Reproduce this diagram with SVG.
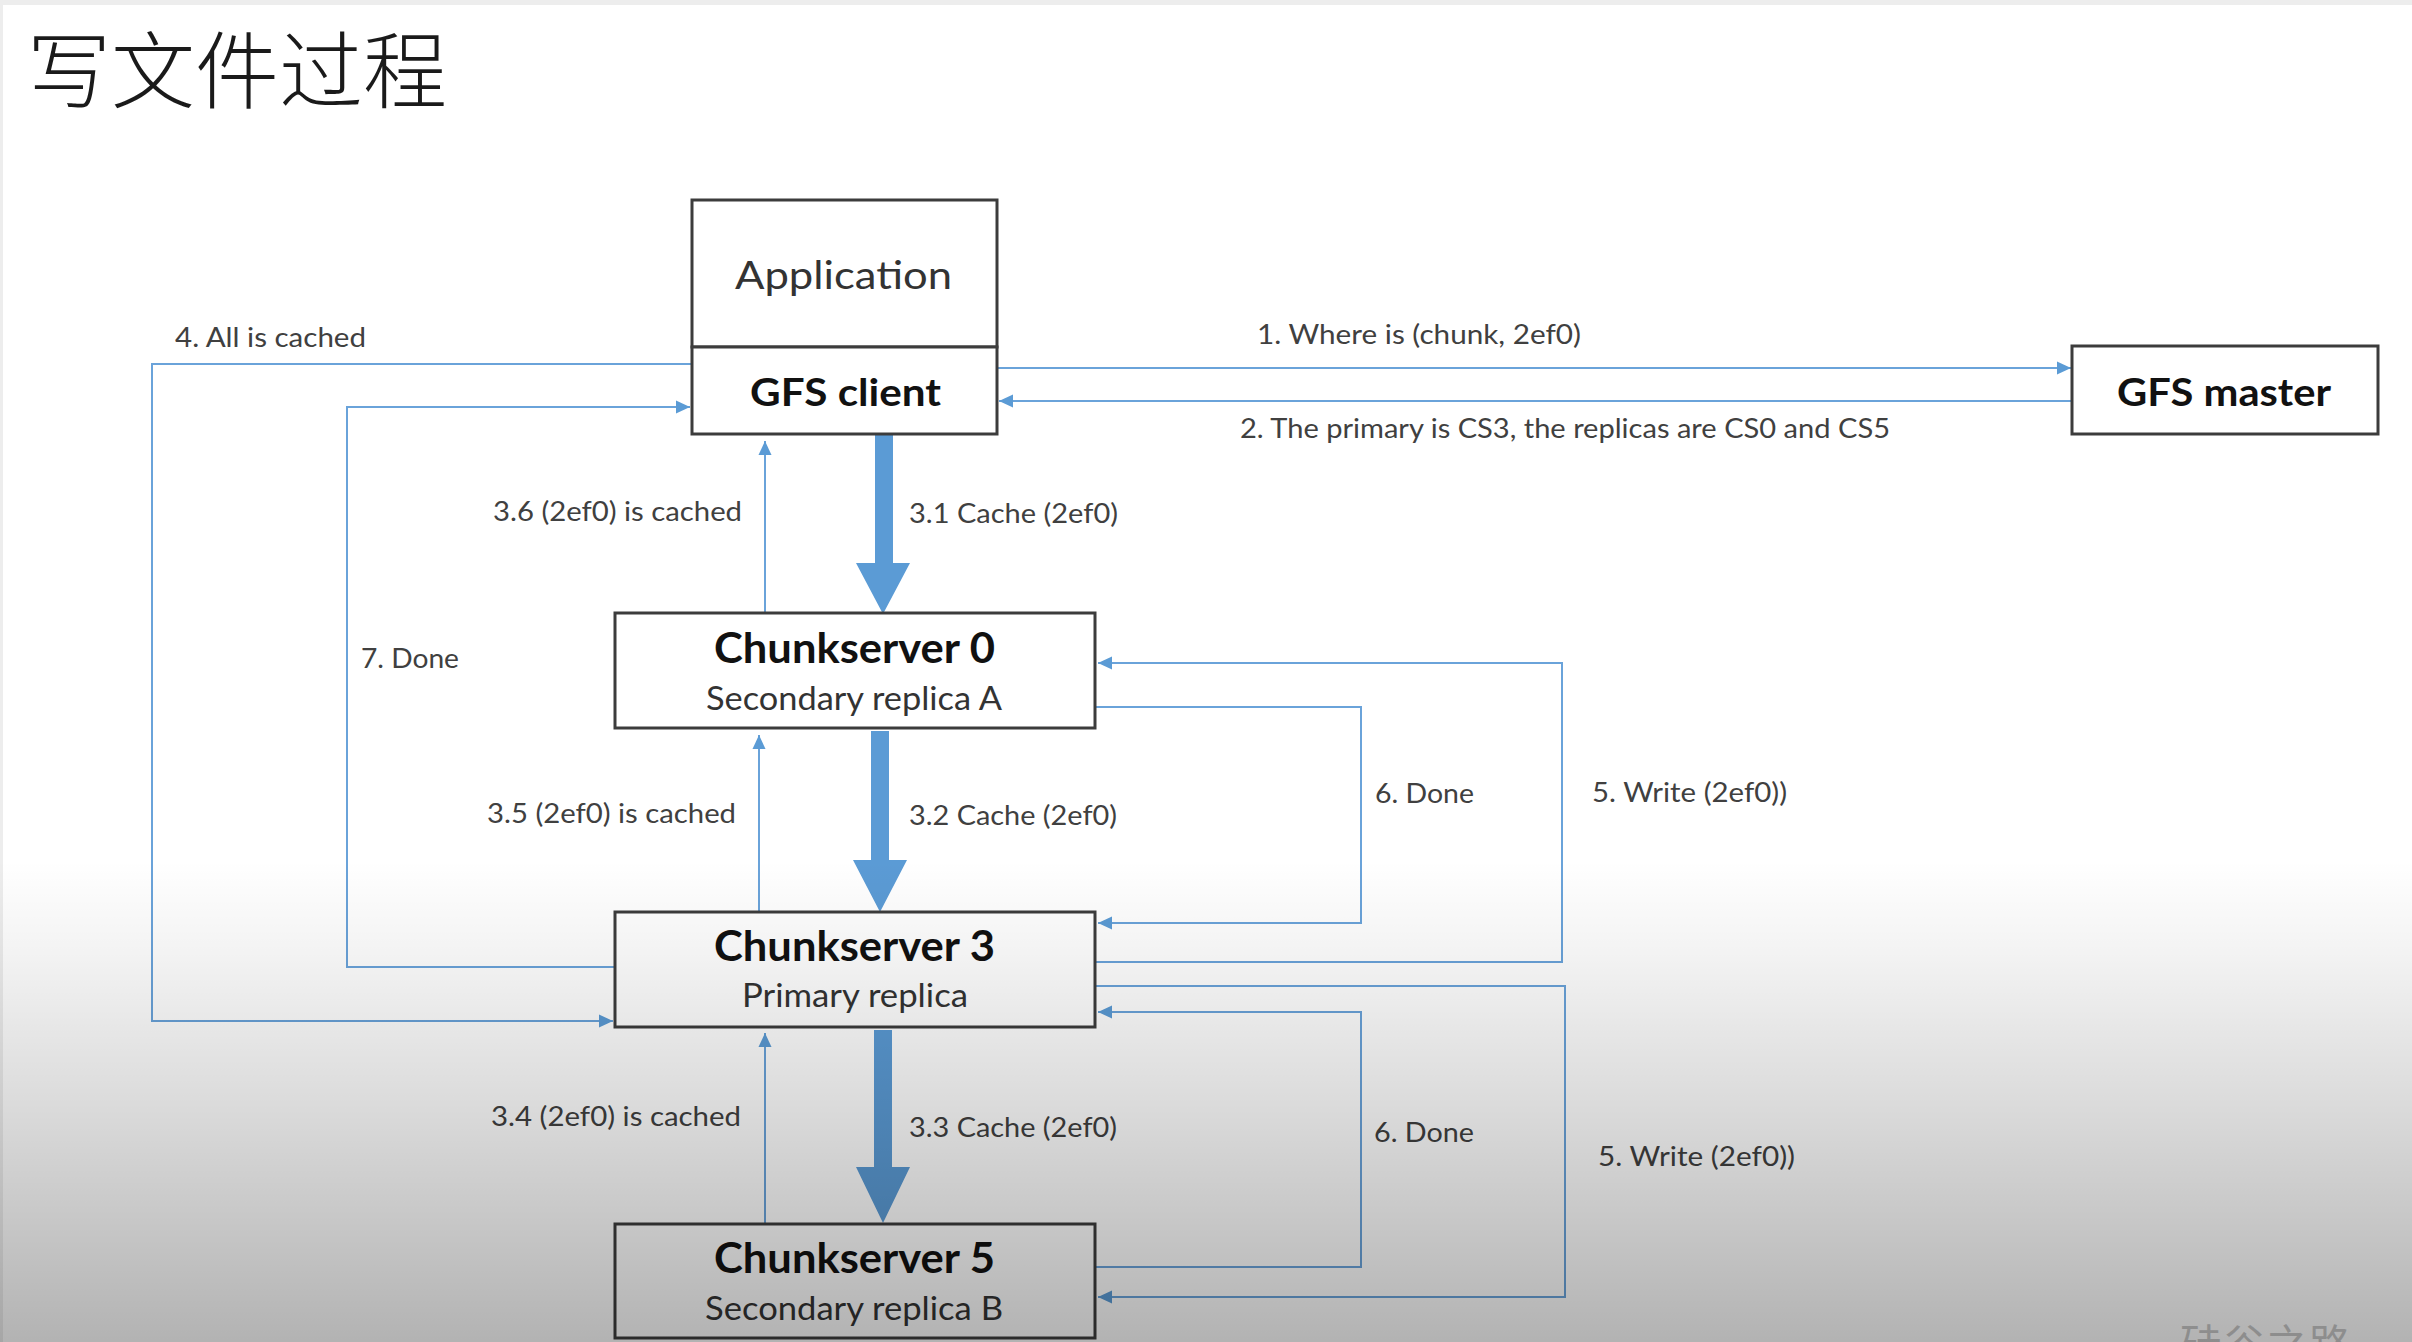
<svg xmlns="http://www.w3.org/2000/svg" width="2412" height="1342" viewBox="0 0 2412 1342">
  <style>
    .box { fill: #ffffff; stroke: #3c3c3c; stroke-width: 3; }
    .conn { fill: none; stroke: #6aa3da; stroke-width: 2; }
    .thick { fill: #5b9bd5; stroke: none; }
    .lbl { font-family: Lato, "Liberation Sans", sans-serif; font-size: 27px; fill: #404040; }
    .ttl { font-family: Lato, "Liberation Sans", sans-serif; font-weight: bold; fill: #111111; }
    .sub { font-family: Lato, "Liberation Sans", sans-serif; fill: #333333; }
    .cjk { font-family: "Noto Sans CJK SC", sans-serif; }
  </style>
  <defs>
    <marker id="ah" markerUnits="userSpaceOnUse" markerWidth="15" markerHeight="14" refX="14" refY="7" orient="auto">
      <path d="M0,0.5 L14,7 L0,13.5 Z" fill="#5b9bd5"/>
    </marker>
    <linearGradient id="shade" gradientUnits="userSpaceOnUse" x1="0" y1="860" x2="0" y2="1342">
      <stop offset="0" stop-color="#000000" stop-opacity="0"/>
      <stop offset="0.2" stop-color="#000000" stop-opacity="0.05"/>
      <stop offset="0.5" stop-color="#000000" stop-opacity="0.14"/>
      <stop offset="1" stop-color="#000000" stop-opacity="0.30"/>
    </linearGradient>
  </defs>

  <!-- background -->
  <rect x="0" y="0" width="2412" height="1342" fill="#ededed"/>
  <rect x="3" y="5" width="2409" height="1337" fill="#ffffff"/>

  <!-- title -->
  <text class="cjk" x="27" y="102" font-size="84" font-weight="300" fill="#1a1a1a">写文件过程</text>

  <!-- connectors -->
  <g id="connectors">
    <path id="c1" class="conn" d="M997,368 H2071" marker-end="url(#ah)"/>
    <path id="c2" class="conn" d="M2072,401 H999" marker-end="url(#ah)"/>
    <path id="c4" class="conn" d="M692,364 H152 V1021 H613" marker-end="url(#ah)"/>
    <path id="c7" class="conn" d="M615,967 H347 V407 H690" marker-end="url(#ah)"/>
    <path id="c36" class="conn" d="M765,613 V441" marker-end="url(#ah)"/>
    <path id="c35" class="conn" d="M759,912 V735" marker-end="url(#ah)"/>
    <path id="c34" class="conn" d="M765,1224 V1033" marker-end="url(#ah)"/>
    <path id="c5a" class="conn" d="M1095,962 H1562 V663 H1098" marker-end="url(#ah)"/>
    <path id="c6a" class="conn" d="M1095,707 H1361 V923 H1098" marker-end="url(#ah)"/>
    <path id="c5b" class="conn" d="M1095,986 H1565 V1297 H1098" marker-end="url(#ah)"/>
    <path id="c6b" class="conn" d="M1091,1284 V1267 H1361 V1012 H1098" marker-end="url(#ah)"/>
    <path id="c31" class="thick" d="M875,434 H893 V563 H910 L883,614 L856,563 H875 Z"/>
    <path id="c32" class="thick" d="M871,731 H889 V860 H907 L880,912 L853,860 H871 Z"/>
    <path id="c33" class="thick" d="M874,1030 H892 V1167 H910 L883,1223 L856,1167 H874 Z"/>
  </g>

  <!-- connector labels -->
  <g id="labels">
    <text class="lbl" x="1257" y="344" textLength="324" lengthAdjust="spacingAndGlyphs">1. Where is (chunk, 2ef0)</text>
    <text class="lbl" x="1240" y="438" textLength="650" lengthAdjust="spacingAndGlyphs">2. The primary is CS3, the replicas are CS0 and CS5</text>
    <text class="lbl" x="175" y="347" textLength="191" lengthAdjust="spacingAndGlyphs">4. All is cached</text>
    <text class="lbl" x="361" y="668" textLength="98" lengthAdjust="spacingAndGlyphs">7. Done</text>
    <text class="lbl" x="493" y="521" textLength="249" lengthAdjust="spacingAndGlyphs">3.6 (2ef0) is cached</text>
    <text class="lbl" x="909" y="523" textLength="209" lengthAdjust="spacingAndGlyphs">3.1 Cache (2ef0)</text>
    <text class="lbl" x="487" y="823" textLength="249" lengthAdjust="spacingAndGlyphs">3.5 (2ef0) is cached</text>
    <text class="lbl" x="909" y="825" textLength="208" lengthAdjust="spacingAndGlyphs">3.2 Cache (2ef0)</text>
    <text class="lbl" x="491" y="1126" textLength="250" lengthAdjust="spacingAndGlyphs">3.4 (2ef0) is cached</text>
    <text class="lbl" x="909" y="1137" textLength="208" lengthAdjust="spacingAndGlyphs">3.3 Cache (2ef0)</text>
    <text class="lbl" x="1375" y="803" textLength="99" lengthAdjust="spacingAndGlyphs">6. Done</text>
    <text class="lbl" x="1592" y="802" textLength="195" lengthAdjust="spacingAndGlyphs">5. Write (2ef0))</text>
    <text class="lbl" x="1374" y="1142" textLength="100" lengthAdjust="spacingAndGlyphs">6. Done</text>
    <text class="lbl" x="1598" y="1166" textLength="197" lengthAdjust="spacingAndGlyphs">5. Write (2ef0))</text>
  </g>

  <!-- nodes -->
  <g id="application">
    <rect class="box" x="692" y="200" width="305" height="147"/>
    <text class="sub" x="735" y="289" font-size="38" textLength="217" lengthAdjust="spacingAndGlyphs">Application</text>
  </g>
  <g id="gfs-client">
    <rect class="box" x="692" y="347" width="305" height="87"/>
    <text class="ttl" x="750" y="406" font-size="38.5" textLength="191" lengthAdjust="spacingAndGlyphs">GFS client</text>
  </g>
  <g id="gfs-master">
    <rect class="box" x="2072" y="346" width="306" height="88"/>
    <text class="ttl" x="2117" y="406" font-size="38" textLength="214" lengthAdjust="spacingAndGlyphs">GFS master</text>
  </g>
  <g id="chunkserver-0">
    <rect class="box" x="615" y="613" width="480" height="115"/>
    <text class="ttl" x="714" y="663" font-size="42" textLength="281" lengthAdjust="spacingAndGlyphs">Chunkserver 0</text>
    <text class="sub" x="706" y="710" font-size="32" textLength="296" lengthAdjust="spacingAndGlyphs">Secondary replica A</text>
  </g>
  <g id="chunkserver-3">
    <rect class="box" x="615" y="912" width="480" height="115"/>
    <text class="ttl" x="714" y="961" font-size="42" textLength="281" lengthAdjust="spacingAndGlyphs">Chunkserver 3</text>
    <text class="sub" x="742" y="1007" font-size="32" textLength="226" lengthAdjust="spacingAndGlyphs">Primary replica</text>
  </g>
  <g id="chunkserver-5">
    <rect class="box" x="615" y="1224" width="480" height="114"/>
    <text class="ttl" x="714" y="1273" font-size="42" textLength="281" lengthAdjust="spacingAndGlyphs">Chunkserver 5</text>
    <text class="sub" x="705" y="1320" font-size="32" textLength="298" lengthAdjust="spacingAndGlyphs">Secondary replica B</text>
  </g>

  <!-- watermark -->
  <text class="cjk" x="2180" y="1360" font-size="42" fill="#c8c8c8" letter-spacing="1">硅谷之路</text>

  <!-- bottom shading -->
  <rect x="0" y="860" width="2412" height="482" fill="url(#shade)"/>
</svg>
